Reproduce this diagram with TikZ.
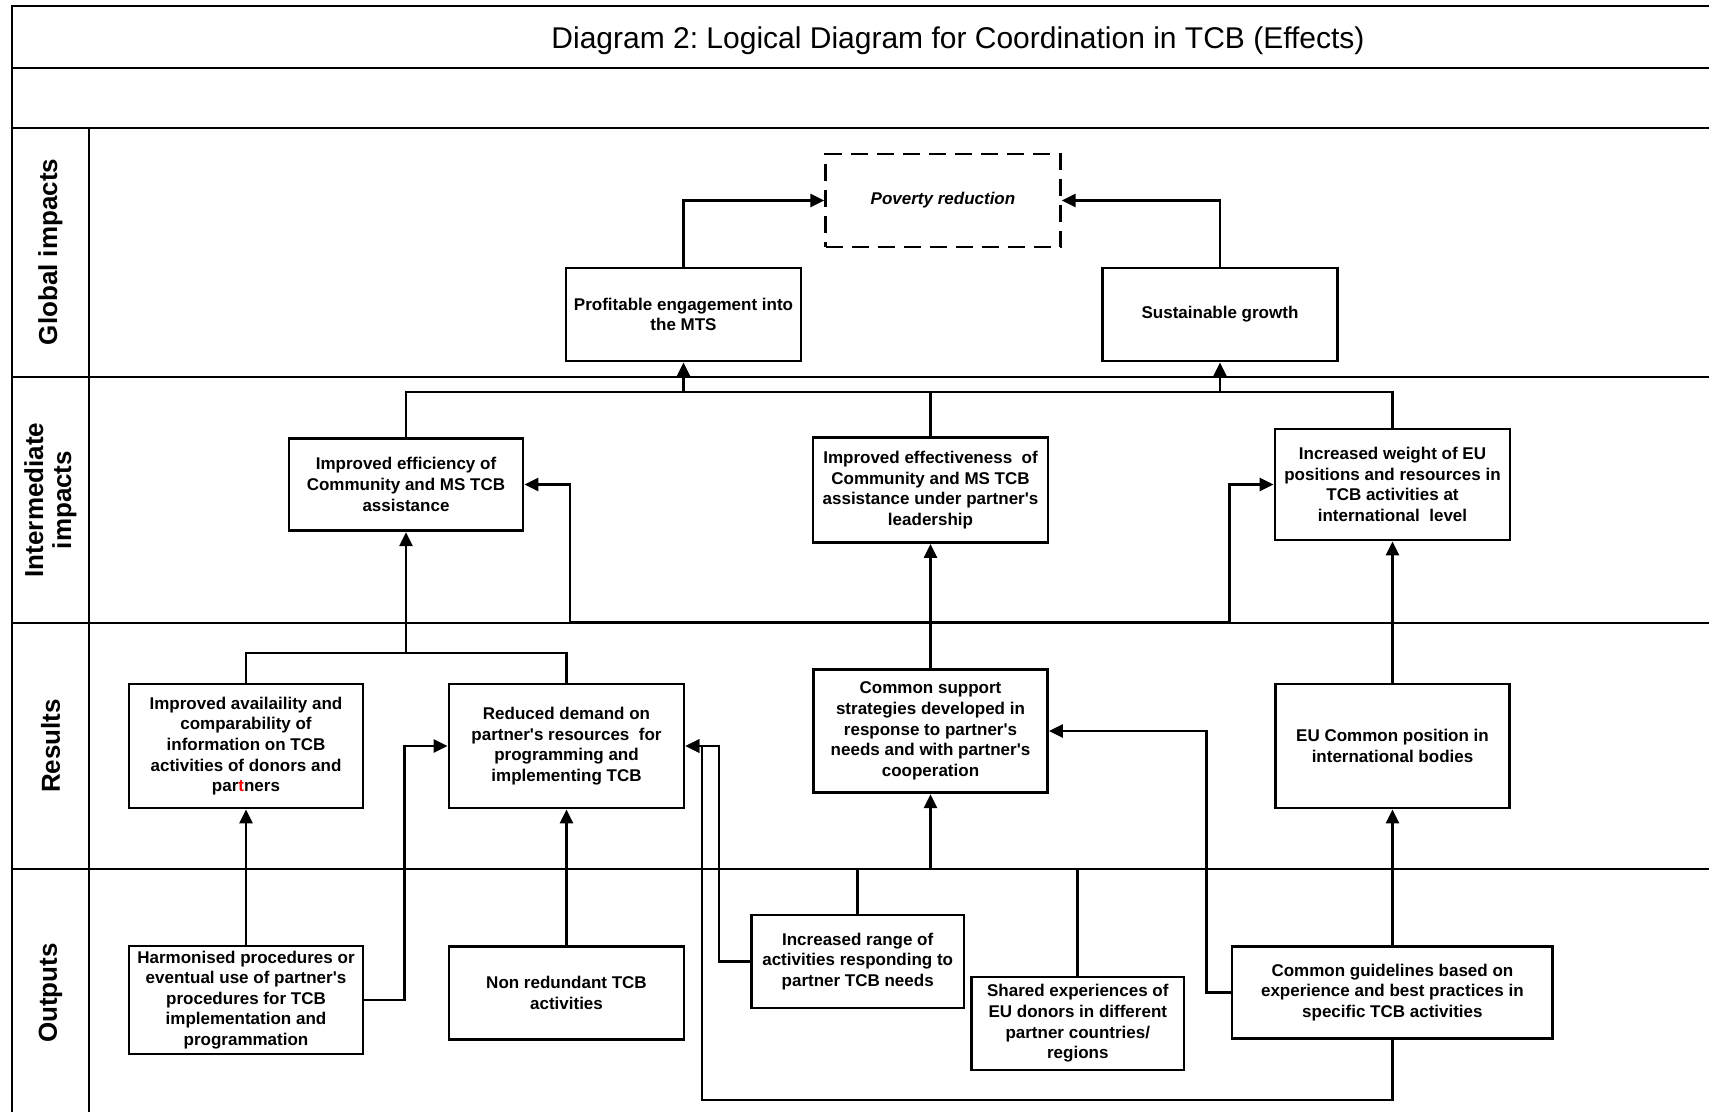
\documentclass[tikz,border=0pt]{standalone}
\usepackage{fontspec}
\setmainfont{Liberation Sans}
\usetikzlibrary{arrows.meta,calc}
\newcommand{\boxfont}{\bfseries\fontsize{17}{20.6}\selectfont}
\newcommand{\ap}{\textquotesingle} % straight apostrophe, as printed
\frenchspacing
\tikzset{
	box/.style={draw, rectangle, line width=2.7pt, align=center, inner sep=2pt, font=\boxfont}, % every result box of the chain
	size/.style 2 args={minimum width=#1pt, minimum height=#2pt}, % width and height of a box, in pixels of the original
	goal/.style={box, dash pattern=on 17pt off 9pt, font=\boxfont\itshape},
	lane/.style={rotate=90, align=center, font=\bfseries\fontsize{26}{28}\selectfont},
	grid/.style={line width=1.3pt},
	plain/.style={line width=2.7pt},
	link/.style={plain, -{Triangle[length=14pt,width=13pt]}},
	twoway/.style={plain, {Triangle[length=14pt,width=13pt]}-{Triangle[length=14pt,width=13pt]}}
}

\begin{document}
\begin{tikzpicture}[x=1pt, y=-1pt]
	\useasboundingbox (0,0) rectangle (1709,1112);
	% table of the lanes
	\draw[grid] (12,1112) -- (12,6) -- (1709,6);
	\foreach \yy in {68,128,377,623,869}
		\draw[grid] (12,\yy) -- (1709,\yy);
	\draw[grid] (89,128) -- (89,1112);
	\node[anchor=base, font=\fontsize{30}{34}\selectfont] (title) at (958,48) {Diagram 2: Logical Diagram for Coordination in TCB (Effects)};
	\node[lane] (lglobal) at (50.5,252) {Global impacts};
	\node[lane] (linter) at (50.5,500) {Intermediate\\impacts};
	\node[lane] (lresult) at (50.5,746) {Results};
	\node[lane] (loutput) at (50.5,993) {Outputs};
	% global impacts
	\node[goal, size={234.5}{93}] (pov) at (943,200.5) {Poverty reduction};
	\node[box, size={235}{93}] (mts) at (683.5,314.5) {Profitable engagement into\\the MTS};
	\node[box, size={234.5}{93}] (grow) at (1220,314.5) {Sustainable growth};
	% intermediate impacts
	\node[box, size={234}{92.5}] (effic) at (406,484.5) {Improved efficiency of\\Community and MS TCB\\assistance};
	\node[box, size={235}{105}] (effect) at (930.5,490) {Improved effectiveness\ \ of\\Community and MS TCB\\assistance under partner\ap s\\leadership};
	\node[box, size={235}{111}] (weight) at (1392.5,484.5) {Increased weight of EU\\positions and resources in\\TCB activities at\\international\ \ level};
	% results
	\node[box, size={234}{124}] (avail) at (246,746) {Improved availaility and\\comparability of\\information on TCB\\activities of donors and\\par{\color{red}t}ners};
	\node[box, size={235}{124}] (demand) at (566.5,746) {Reduced demand on\\partner\ap s resources\ \ for\\programming and\\implementing TCB};
	\node[box, size={234}{123.5}] (support) at (930.5,731) {Common support\\strategies developed in\\response to partner\ap s\\needs and with partner\ap s\\cooperation};
	\node[box, size={234.5}{124}] (eupos) at (1392.5,746) {EU Common position in\\international bodies};
	% outputs
	\node[box, size={234}{108}] (harmo) at (246,1000) {Harmonised procedures or\\eventual use of partner\ap s\\procedures for TCB\\implementation and\\programmation};
	\node[box, size={235}{92.5}] (nonred) at (566.5,993) {Non redundant TCB\\activities};
	\node[box, size={212.5}{93}] (range) at (857.7,961.5) {Increased range of\\activities responding to\\partner TCB needs};
	\node[box, size={212.5}{93}] (shared) at (1077.8,1023.5) {Shared experiences of\\EU donors in different\\partner countries/\\regions};
	\node[box, size={320.6}{92.5}] (guide) at (1392.4,992.5) {Common guidelines based on\\experience and best practices in\\specific TCB activities};
	% bars where branches meet
	\coordinate (bus) at (0,392);
	\coordinate (barA) at (0,653);
	\coordinate (barB) at (0,869);
	% upper part
	\draw[link] (mts.north) |- (pov.west);
	\draw[link] (grow.north) |- (pov.east);
	\draw[plain] (effic.north) -- (effic.north |- bus) -- (weight.north |- bus) -- (weight.north);
	\draw[plain] (effect.north) -- (effect.north |- bus);
	\draw[link] (mts.south |- bus) -- (mts.south);
	\draw[link] (grow.south |- bus) -- (grow.south);
	\draw[twoway] (effic.east) -| (570,622.5) -| (1229.6,484.5) -- (weight.west);
	% results to intermediate impacts
	\draw[plain] (avail.north) -- (avail.north |- barA) -- (demand.north |- barA) -- (demand.north);
	\draw[link] (effic.south |- barA) -- (effic.south);
	\draw[link] (support.north) -- (effect.south);
	\draw[link] (eupos.north) -- (weight.south);
	% outputs to results
	\draw[link] (harmo.north) -- (avail.south);
	\draw[link] (nonred.north) -- (demand.south);
	\draw[link] (harmo.east) -- ++(40,0) |- (demand.west);
	\draw[link] (range.west) -- ++(-31,0) |- (demand.east);
	\draw[link] (guide.south) |- (702,1100) |- (demand.east);
	\draw[link] (guide.west) -- ++(-24,0) |- (support.east);
	\draw[link] (guide.north) -- (eupos.south);
	\draw[plain] (range.north) -- (range.north |- barB) -- (shared.north |- barB) -- (shared.north);
	\draw[link] (support.south |- barB) -- (support.south);
\end{tikzpicture}
\end{document}
